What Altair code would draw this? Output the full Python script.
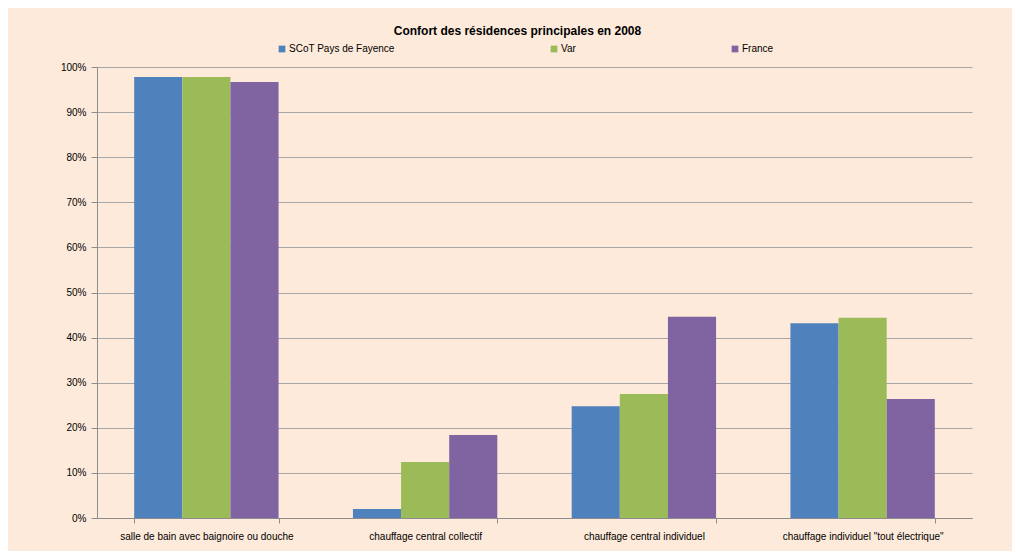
import altair as alt
import pandas as pd

categories = [
    "salle de bain avec baignoire ou douche",
    "chauffage central collectif",
    "chauffage central individuel",
    'chauffage individuel "tout électrique"',
]
series = ["SCoT Pays de Fayence", "Var", "France"]
scot = [0.978, 0.020, 0.248, 0.432]
var = [0.978, 0.124, 0.275, 0.444]
france = [0.967, 0.184, 0.446, 0.264]
colors = ["#4F81BD", "#9BBB59", "#8064A2"]
y_ticks = [i / 10 for i in range(11)]

rows = []
for name, vals in zip(series, [scot, var, france]):
    for c, v in zip(categories, vals):
        rows.append({"cat": c, "serie": name, "val": v})
df = pd.DataFrame(rows)

FONT = "Liberation Sans"

chart = (
    alt.Chart(df)
    .mark_bar()
    .encode(
        x=alt.X(
            "cat:N",
            sort=categories,
            title=None,
            scale=alt.Scale(paddingInner=0.34, paddingOuter=0.17),
            axis=alt.Axis(
                labelAngle=0,
                tickBand="extent",
                domainColor="#8C8C8C",
                tickColor="#8C8C8C",
                tickSize=5,
                labelFontSize=10,
                labelColor="#000000",
                labelPadding=8,
                labelFont=FONT,
                labelLimit=300,
                grid=False,
            ),
        ),
        xOffset=alt.XOffset("serie:N", sort=series, scale=alt.Scale(paddingInner=0, paddingOuter=0)),
        y=alt.Y(
            "val:Q",
            title=None,
            scale=alt.Scale(domain=[0, 1], nice=False),
            axis=alt.Axis(
                values=y_ticks,
                format=".0%",
                domainColor="#8C8C8C",
                tickColor="#8C8C8C",
                tickSize=6,
                gridColor="#A6A6A6",
                gridWidth=1,
                labelFontSize=10,
                labelColor="#000000",
                labelPadding=5,
                labelFont=FONT,
            ),
        ),
        color=alt.Color(
            "serie:N",
            sort=series,
            scale=alt.Scale(domain=series, range=colors),
            legend=alt.Legend(
                title=None,
                orient="none",
                legendX=180,
                legendY=-23,
                direction="horizontal",
                symbolType="square",
                symbolSize=45,
                symbolStrokeWidth=0,
                labelFontSize=10,
                labelFont=FONT,
                labelColor="#000000",
                columnPadding=154,
                labelOffset=2,
                gridAlign="none",
            ),
        ),
    )
    .properties(
        width=875,
        height=451,
        title=alt.TitleParams(
            "Confort des résidences principales en 2008",
            fontSize=12,
            fontWeight="bold",
            font=FONT,
            color="#000000",
            anchor="middle",
            offset=6,
            dx=-17,
        ),
        autosize=alt.AutoSizeParams(type="none"),
        padding={"left": 89, "top": 59, "right": 40, "bottom": 33},
    )
    .configure(background="#FDEADA")
    .configure_view(stroke=None)
)

chart.save("out.html", embed_options={"renderer": "svg", "actions": False})
